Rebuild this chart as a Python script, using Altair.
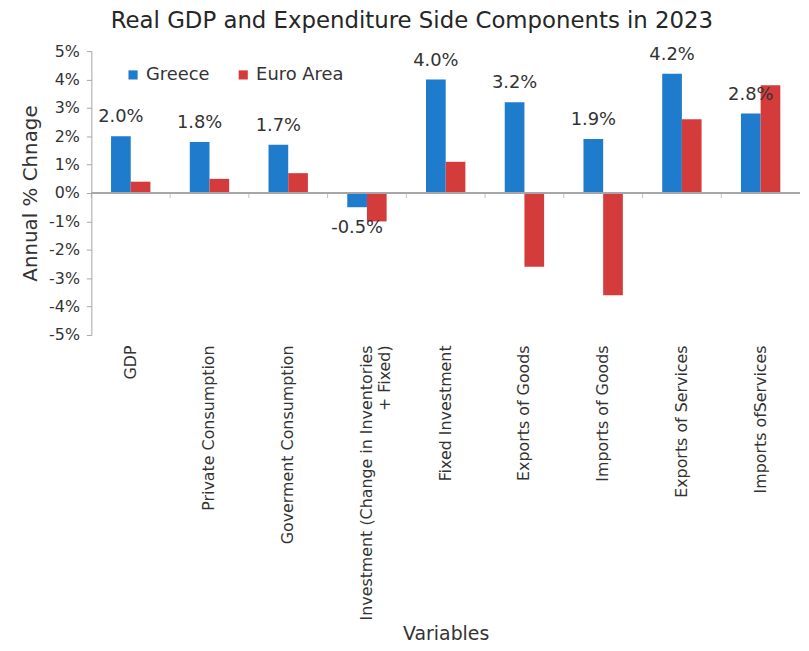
import altair as alt
import pandas as pd

categories = [
    "GDP",
    "Private Consumption",
    "Goverment Consumption",
    "Investment (Change in Inventories|+ Fixed)",
    "Fixed Investment",
    "Exports of Goods",
    "Imports of Goods",
    "Exports of Services",
    "Imports ofServices",
]
greece = [2.0, 1.8, 1.7, -0.5, 4.0, 3.2, 1.9, 4.2, 2.8]
euro_area = [0.4, 0.5, 0.7, -1.0, 1.1, -2.6, -3.6, 2.6, 3.8]
series_names = ["Greece", "Euro Area"]
series_colors = ["#1f7bcb", "#d43c3c"]
y_ticks = [-5, -4, -3, -2, -1, 0, 1, 2, 3, 4, 5]

rows = []
for c, g, e in zip(categories, greece, euro_area):
    rows.append({"Variable": c, "Series": "Greece", "Value": g})
    rows.append({"Variable": c, "Series": "Euro Area", "Value": e})
df = pd.DataFrame(rows)
cat_df = pd.DataFrame({"Variable": categories, "Zero": [0] * len(categories)})

FONT = "DejaVu Sans"
TXT = "#333333"
GRAY = "#a6a6a6"

x_axis = alt.Axis(
    title="Variables",
    labelAngle=-90,
    labelExpr="split(datum.label, '|')",
    labelFont=FONT,
    labelFontSize=16,
    labelColor=TXT,
    labelPadding=10,
    labelLimit=400,
    ticks=False,
    domain=False,
    titleFont=FONT,
    titleFontSize=19,
    titleFontWeight="normal",
    titleColor=TXT,
    titleBaseline="middle",
    titleY=301,
)
x_scale = alt.Scale(paddingInner=0, paddingOuter=0)

y_axis = alt.Axis(
    title="Annual % Chnage",
    values=y_ticks,
    labelExpr="datum.value + '%'",
    labelOverlap=False,
    grid=False,
    labelFont=FONT,
    labelFontSize=16,
    labelColor=TXT,
    domainColor=GRAY,
    tickColor=GRAY,
    tickSize=5,
    labelPadding=7,
    titleFont=FONT,
    titleFontSize=20,
    titleFontWeight="normal",
    titleColor=TXT,
    titlePadding=8,
)
y_scale = alt.Scale(domain=[-5, 5], nice=False)

x_enc = alt.X("Variable:N", sort=categories, scale=x_scale, axis=x_axis, title="Variables")
y_enc = alt.Y("Value:Q", scale=y_scale, axis=y_axis, title="Annual % Chnage")
x_off = alt.XOffset(
    "Series:N",
    sort=series_names,
    scale=alt.Scale(domain=series_names, paddingInner=0, paddingOuter=1),
)

bars = alt.Chart(df).mark_bar().encode(
    x=x_enc,
    xOffset=x_off,
    y=y_enc,
    color=alt.Color(
        "Series:N",
        sort=series_names,
        scale=alt.Scale(domain=series_names, range=series_colors),
        legend=alt.Legend(
            title=None,
            orient="none",
            legendX=33,
            legendY=15,
            direction="horizontal",
            symbolType="square",
            symbolSize=85,
            symbolStrokeWidth=0,
            labelFont=FONT,
            labelFontSize=18,
            labelColor=TXT,
            labelOffset=4,
            columnPadding=24,
        ),
    ),
)

zero_line = alt.Chart(cat_df).mark_rule(color=GRAY, strokeWidth=1).encode(
    y=alt.Y("Zero:Q", scale=y_scale, axis=y_axis, title="Annual % Chnage"),
)

zero_ticks = alt.Chart(cat_df).mark_tick(
    color=GRAY, orient="vertical", size=5, thickness=1, yOffset=2.5
).encode(
    x=alt.X("Variable:N", sort=categories, scale=x_scale, axis=x_axis,
            title="Variables", bandPosition=0),
    y=alt.Y("Zero:Q", scale=y_scale, axis=y_axis, title="Annual % Chnage"),
)

greece_df = df[df["Series"] == "Greece"]
label_expr = "replace(format(datum.Value, '.1f'), '\u2212', '-') + '%'"

labels_pos = alt.Chart(greece_df).transform_filter("datum.Value > 0").transform_calculate(
    lbl=label_expr
).mark_text(font=FONT, fontSize=18, color=TXT, baseline="middle", dy=-19).encode(
    x=x_enc,
    xOffset=x_off,
    y=y_enc,
    text="lbl:N",
)

labels_neg = alt.Chart(greece_df).transform_filter("datum.Value < 0").transform_calculate(
    lbl=label_expr
).mark_text(font=FONT, fontSize=18, color=TXT, baseline="middle", dy=21).encode(
    x=x_enc,
    xOffset=x_off,
    y=y_enc,
    text="lbl:N",
)

chart = (
    alt.layer(bars, zero_line, zero_ticks, labels_pos, labels_neg)
    .properties(
        width=714,
        height=286,
        title=alt.TitleParams(
            "Real GDP and Expenditure Side Components in 2023",
            font=FONT,
            fontSize=23,
            fontWeight="normal",
            color="#262626",
            offset=10,
            dx=-34,
        ),
        padding={"left": 12, "top": 0, "right": 0, "bottom": 5},
    )
    .configure_view(stroke=None)
)

chart.save("out.html", embed_options={"renderer": "svg", "actions": False})
